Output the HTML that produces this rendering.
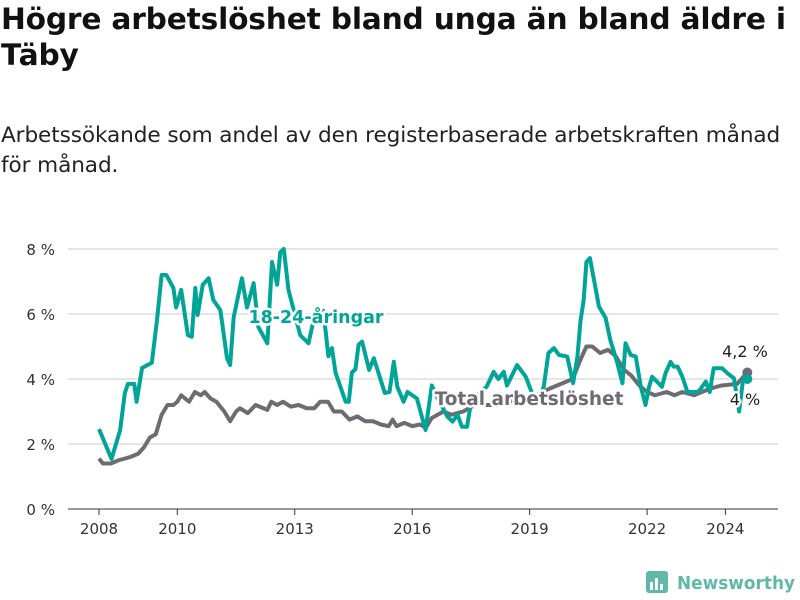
<!DOCTYPE html>
<html><head><meta charset="utf-8"><style>
body{margin:0;width:800px;height:600px;background:#fff;font-family:"DejaVu Sans",sans-serif;overflow:hidden;position:relative}
#title{position:absolute;left:1px;top:2px;font-size:29.7px;font-weight:bold;line-height:36px;color:#111;letter-spacing:-0.2px;white-space:nowrap}
#sub{position:absolute;left:1px;top:121px;font-size:21.6px;line-height:30px;color:#222;white-space:nowrap;letter-spacing:-0.1px}
svg{position:absolute;left:0;top:0}
</style></head><body>
<div id="title">Högre arbetslöshet bland unga än bland äldre i<br>Täby</div>
<div id="sub">Arbetssökande som andel av den registerbaserade arbetskraften månad<br>för månad.</div>
<svg id="c" width="800" height="600" font-family="DejaVu Sans, sans-serif"></svg>
<script>
const yTicks=[0,2,4,6,8];
const xTicks=[2008,2010,2013,2016,2019,2022,2024];
const youthDates=[2008.0,2008.32,2008.54,2008.66,2008.74,2008.9,2008.96,2009.1,2009.35,2009.48,2009.6,2009.72,2009.9,2009.97,2010.1,2010.27,2010.37,2010.46,2010.52,2010.65,2010.8,2010.92,2011.1,2011.27,2011.35,2011.44,2011.65,2011.78,2011.95,2012.07,2012.3,2012.42,2012.55,2012.63,2012.72,2012.84,2013.0,2013.14,2013.35,2013.5,2013.73,2013.86,2013.95,2014.04,2014.3,2014.38,2014.46,2014.55,2014.63,2014.72,2014.9,2015.02,2015.3,2015.42,2015.53,2015.62,2015.78,2015.88,2016.12,2016.34,2016.5,2016.63,2016.9,2017.03,2017.16,2017.27,2017.4,2017.5,2017.66,2017.9,2018.08,2018.2,2018.34,2018.42,2018.68,2018.9,2019.06,2019.2,2019.36,2019.48,2019.62,2019.75,2019.96,2020.11,2020.22,2020.3,2020.38,2020.45,2020.54,2020.77,2020.94,2021.06,2021.24,2021.37,2021.45,2021.58,2021.71,2021.84,2021.96,2022.05,2022.13,2022.38,2022.47,2022.6,2022.68,2022.78,2022.9,2023.03,2023.3,2023.38,2023.5,2023.6,2023.7,2023.92,2024.05,2024.22,2024.35,2024.45,2024.56];
const youthValues=[2.46,1.54,2.43,3.57,3.85,3.85,3.3,4.34,4.5,5.8,7.2,7.2,6.8,6.2,6.74,5.35,5.3,6.8,5.97,6.9,7.1,6.43,6.12,4.64,4.43,5.9,7.1,6.2,6.95,5.6,5.1,7.6,6.9,7.9,8.0,6.74,6.0,5.35,5.1,5.9,6.1,4.7,4.95,4.2,3.3,3.3,4.2,4.3,5.05,5.15,4.28,4.64,3.57,3.6,4.53,3.76,3.3,3.6,3.4,2.43,3.8,3.46,2.84,2.69,2.9,2.53,2.53,3.26,3.5,3.76,4.22,4.0,4.22,3.8,4.43,4.07,3.57,3.3,3.76,4.8,4.95,4.74,4.69,3.87,4.69,5.8,6.43,7.6,7.72,6.23,5.88,5.2,4.49,3.87,5.1,4.74,4.69,3.76,3.2,3.76,4.07,3.76,4.18,4.53,4.38,4.38,4.07,3.6,3.6,3.72,3.92,3.6,4.33,4.33,4.18,4.02,3.0,3.97,4.0];
const totalDates=[2008.0,2008.1,2008.3,2008.5,2008.8,2009.0,2009.15,2009.3,2009.45,2009.6,2009.75,2009.9,2010.0,2010.1,2010.3,2010.45,2010.6,2010.7,2010.85,2011.0,2011.2,2011.35,2011.5,2011.6,2011.8,2012.0,2012.2,2012.3,2012.4,2012.55,2012.7,2012.9,2013.1,2013.3,2013.5,2013.65,2013.85,2014.0,2014.2,2014.4,2014.6,2014.8,2015.0,2015.2,2015.4,2015.5,2015.6,2015.8,2016.0,2016.2,2016.35,2016.5,2016.8,2017.0,2017.3,2017.6,2018.0,2018.5,2019.0,2019.5,2020.1,2020.3,2020.45,2020.6,2020.8,2021.0,2021.2,2021.4,2021.6,2021.8,2022.0,2022.2,2022.5,2022.7,2022.9,2023.2,2023.4,2023.6,2023.9,2024.3,2024.56];
const totalValues=[1.55,1.4,1.4,1.5,1.6,1.7,1.9,2.2,2.3,2.9,3.2,3.2,3.3,3.5,3.3,3.6,3.5,3.6,3.4,3.3,3.0,2.7,3.0,3.1,2.95,3.2,3.1,3.05,3.3,3.2,3.3,3.15,3.2,3.1,3.1,3.3,3.3,3.0,3.0,2.75,2.85,2.7,2.7,2.6,2.55,2.75,2.55,2.65,2.55,2.6,2.5,2.8,3.0,2.9,3.0,3.2,3.2,3.3,3.4,3.7,4.0,4.6,5.0,5.0,4.8,4.9,4.7,4.3,4.1,3.8,3.6,3.5,3.6,3.5,3.6,3.5,3.6,3.7,3.8,3.85,4.2];
const NS="http://www.w3.org/2000/svg",svg=document.getElementById('c');
const X=v=>99+(v-2008)*39.15, Y=v=>509-v*32.5;
function mk(t,a,p){const e=document.createElementNS(NS,t);for(const k in a)e.setAttribute(k,a[k]);(p||svg).appendChild(e);return e;}
yTicks.forEach(v=>{
 const g=mk('line',{x1:68,x2:778,y1:Y(v),y2:Y(v),stroke:v===0?'#333':'#ddd','stroke-width':v===0?1:1.5});
 
 
 const t=mk('text',{x:55,y:Y(v)+6,'text-anchor':'end','font-size':15,fill:'#333'});t.textContent=v+' %';
 
 
});
xTicks.forEach(v=>{
 const l=mk('line',{x1:X(v),x2:X(v),y1:509,y2:515,stroke:'#333'});
 
 
 const t=mk('text',{x:X(v),y:534,'text-anchor':'middle','font-size':15,fill:'#333'});t.textContent=v;
 
 
});
function line(d,v,col,name){
 const p=mk('polyline',{points:d.map((x,i)=>X(x)+','+Y(v[i])).join(' '),fill:'none',stroke:col,'stroke-width':4,'stroke-linejoin':'round'});
 
 
}
line(totalDates,totalValues,'#6e6c72','total-line');
line(youthDates,youthValues,'#00a597','youth-line');
function lbl(x,y,txt,col,name,fs,w){
 const t=mk('text',{x:x,y:y,'text-anchor':'middle','font-size':fs,'font-weight':w?'bold':'normal',fill:col,stroke:'#fff','stroke-width':5,'paint-order':'stroke','stroke-linejoin':'round'});
 t.textContent=txt;
 
 
}
lbl(316,323,'18-24-åringar','#00a597','youth-series-label',17.5,1);
lbl(529,405,'Total arbetslöshet','#6e6c72','total-series-label',18.5,1);
const d1=mk('circle',{cx:X(2024.56),cy:Y(4.2),r:5,fill:'#6e6c72'});


const d2=mk('circle',{cx:X(2024.56),cy:Y(4.0),r:5,fill:'#00a597'});


lbl(745,357,'4,2 %','#222','total-end-value',16,0);
lbl(745,405,'4 %','#222','youth-end-value',16,0);
</script>
<svg width="800" height="600" style="pointer-events:none">
<rect x="646" y="571" width="22" height="22" rx="3" fill="#5fb8a8"/>
<rect x="650" y="582" width="3" height="8" fill="#fff"/><rect x="655" y="578" width="3" height="12" fill="#fff"/><rect x="660" y="584" width="3" height="6" fill="#fff"/>
<text x="677" y="589" font-size="18" font-weight="bold" fill="#5fb8a8" font-family="DejaVu Sans, sans-serif" textLength="118" lengthAdjust="spacingAndGlyphs">Newsworthy</text>
</svg>
</body></html>
